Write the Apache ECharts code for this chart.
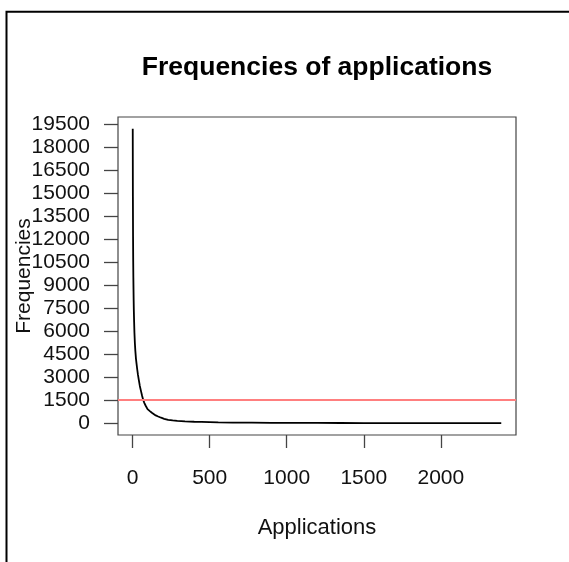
<!DOCTYPE html>
<html>
<head>
<meta charset="utf-8">
<title>Frequencies of applications</title>
<script src="https://cdn.jsdelivr.net/npm/echarts@6.0.0/dist/echarts.min.js"></script>
<style>
  html, body { margin: 0; padding: 0; background: #ffffff; }
  #chart { width: 569px; height: 562px; }
</style>
</head>
<body>
<div id="chart"></div>
<script>
// Rank of each application (sorted by frequency, descending)
const appRank = [1, 2, 3, 4, 5, 6, 7, 8, 10, 12, 15, 18, 22, 26, 30, 35, 40, 47, 55, 62, 69, 76, 85, 97,
  112, 125, 134, 150, 166, 185, 205, 231, 260, 290, 340, 400, 448, 500, 556, 650, 773, 900, 1000,
  1100, 1200, 1350, 1500, 1650, 1800, 2000, 2200, 2392];
// Frequency of the application at that rank
const appFreq = [19200, 14800, 12200, 10600, 9500, 8700, 8000, 7400, 6600, 5900, 5200, 4700, 4200, 3850,
  3520, 3150, 2850, 2430, 2080, 1780, 1520, 1330, 1140, 920, 790, 680, 600, 510, 440, 360, 290, 220,
  180, 150, 118, 97, 85, 68, 50, 45, 38, 30, 25, 21, 18, 14, 11, 9, 7, 5, 3, 1];
// Reference threshold drawn as a horizontal line
const threshold = 1500;
// Tick labels
const xTicks = [0, 500, 1000, 1500, 2000];
const yTicks = [0, 1500, 3000, 4500, 6000, 7500, 9000, 10500, 12000, 13500, 15000, 16500, 18000, 19500];

// Axis limits: data extent padded by 4% on each side
function padded(values) {
  const lo = Math.min(...values), hi = Math.max(...values);
  const pad = (hi - lo) * 0.04;
  return [lo - pad, hi + pad];
}
const [xMin, xMax] = padded(appRank);
const [yMin, yMax] = padded(appFreq);

const FONT = '"Liberation Sans", Arial, Helvetica, sans-serif';
const points = appRank.map((r, i) => [r, appFreq[i]]);
const plain = v => String(Math.round(v));

const chart = echarts.init(document.getElementById('chart'), null, { renderer: 'canvas' });
chart.setOption({
  backgroundColor: '#ffffff',
  animation: false,
  graphic: [{
    type: 'rect',
    shape: { x: 6.5, y: 11.8, width: 640, height: 640 },
    style: { fill: null, stroke: '#000', lineWidth: 2 },
    silent: true
  }, {
    type: 'text',
    x: 317,
    y: 67.5,
    style: {
      text: 'Frequencies of applications',
      align: 'center',
      verticalAlign: 'middle',
      font: 'bold 26.5px ' + FONT,
      fill: '#000'
    },
    silent: true
  }],
  grid: {
    left: 118, top: 117, width: 398, height: 318,
    containLabel: false,
    outerBoundsMode: 'none',
    show: true,
    borderColor: '#444',
    borderWidth: 1.2,
    backgroundColor: 'transparent'
  },
  xAxis: {
    type: 'value',
    min: xMin,
    max: xMax,
    name: 'Applications',
    nameLocation: 'middle',
    nameGap: 82,
    nameTextStyle: { fontFamily: FONT, fontSize: 22, color: '#111' },
    axisLine: { show: false, onZero: false },
    splitLine: { show: false },
    axisTick: {
      show: true, inside: false, length: 13, customValues: xTicks,
      lineStyle: { color: '#444', width: 1.3 }
    },
    axisLabel: {
      customValues: xTicks, margin: 33, formatter: plain,
      fontFamily: FONT, fontSize: 21, color: '#111'
    }
  },
  yAxis: {
    type: 'value',
    min: yMin,
    max: yMax,
    name: 'Frequencies',
    nameLocation: 'middle',
    nameRotate: 90,
    nameGap: 83,
    nameMoveOverlap: false,
    nameTextStyle: { fontFamily: FONT, fontSize: 21, color: '#111' },
    axisLine: { show: false, onZero: false },
    splitLine: { show: false },
    axisTick: {
      show: true, inside: false, length: 14, customValues: yTicks,
      lineStyle: { color: '#444', width: 1.3 }
    },
    axisLabel: {
      customValues: yTicks, margin: 28, formatter: plain,
      fontFamily: FONT, fontSize: 21, color: '#111'
    }
  },
  series: [{
    type: 'line',
    data: points,
    showSymbol: false,
    symbol: 'none',
    clip: true,
    lineStyle: { color: '#000', width: 1.8 },
    markLine: {
      silent: true,
      symbol: 'none',
      label: { show: false },
      lineStyle: { color: '#ff7f7f', width: 2, type: 'solid' },
      data: [{ yAxis: threshold }]
    }
  }]
});
</script>
</body>
</html>
